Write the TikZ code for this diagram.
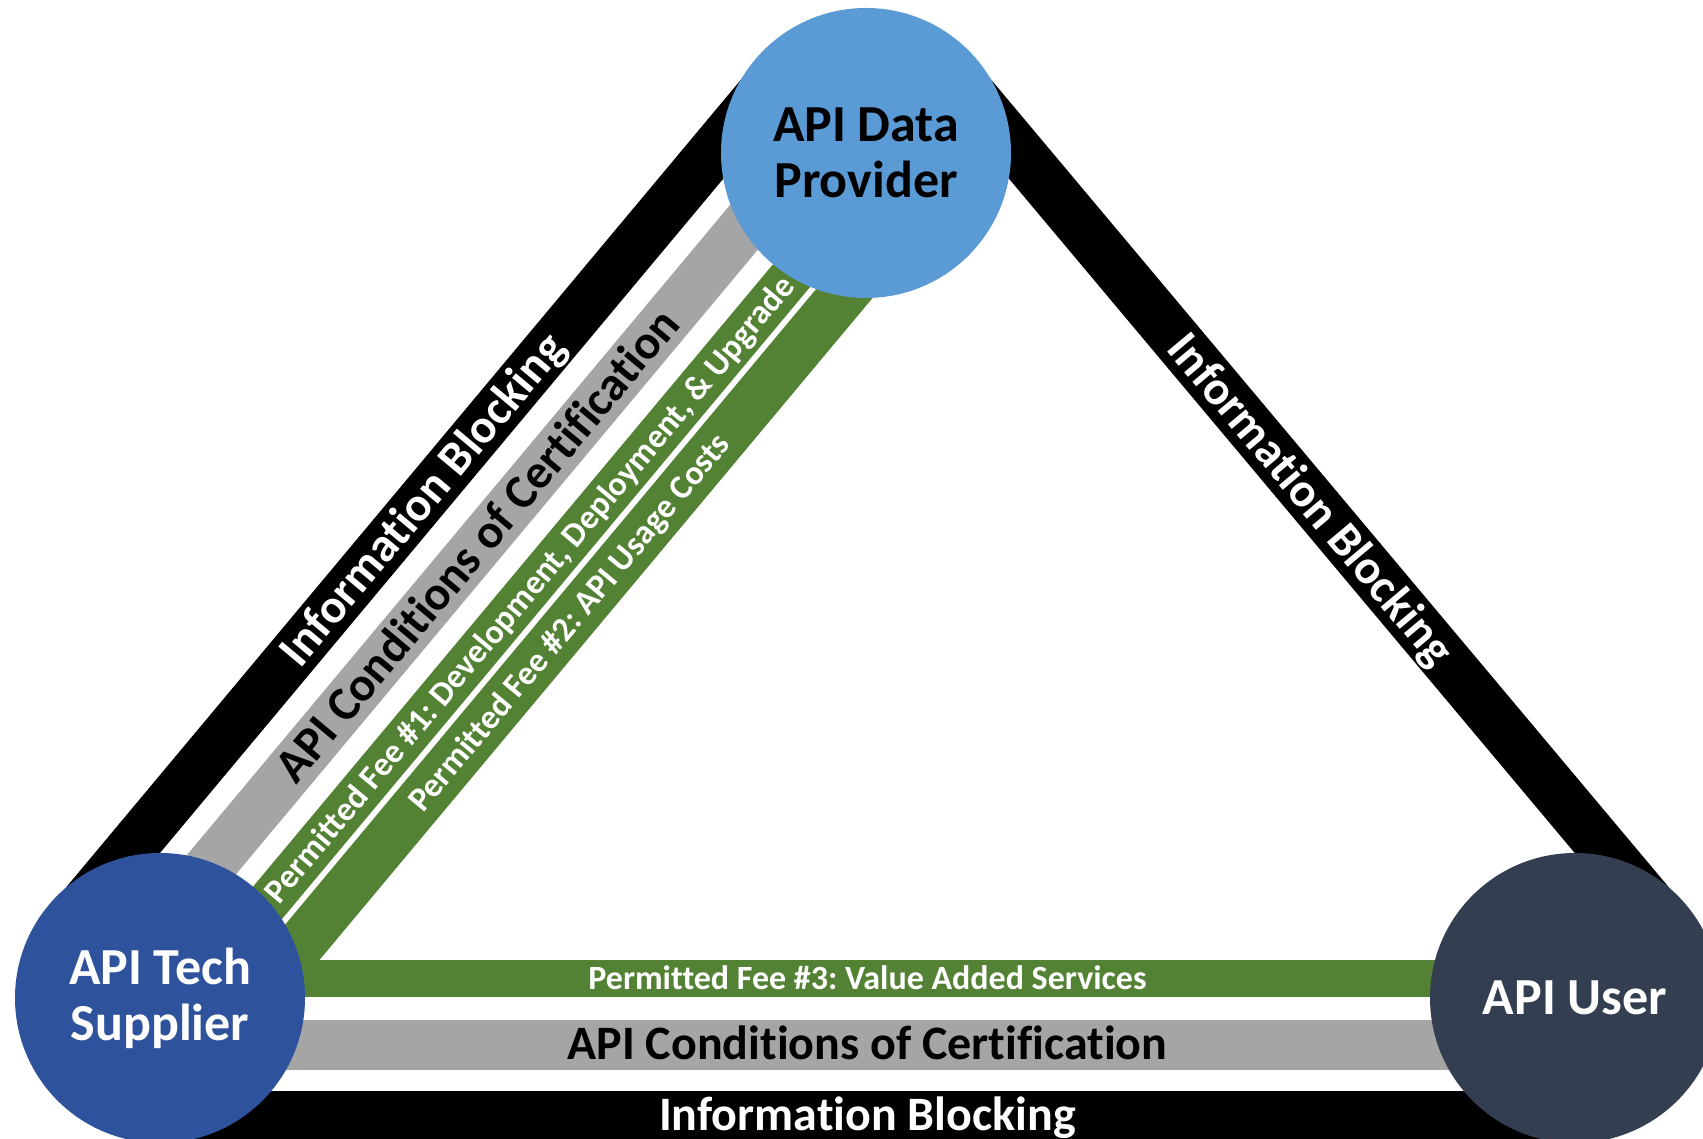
\documentclass[tikz,border=0pt]{standalone}
\usepackage{fontspec}
\setmainfont{Carlito}[Ligatures=NoCommon]
\usetikzlibrary{calc,backgrounds}
\frenchspacing

\begin{document}
\begin{tikzpicture}[x=1pt,y=1pt,
    hub/.style={circle, minimum size=290pt, inner sep=0pt, align=center, font=\fontsize{52}{56}\selectfont\bfseries},
    infoband/.style={line width=50pt, color=black},
    certband/.style={line width=50pt, color={rgb, 255:red, 165; green, 165; blue, 165 }},
    feeband/.style={color={rgb, 255:red, 84; green, 130; blue, 53 }},
    bigtext/.style={sloped, inner sep=0pt, font=\fontsize{48}{50}\selectfont\bfseries, text height=30pt, text depth=0pt},
    feetext/.style={sloped, inner sep=0pt, font=\fontsize{34}{36}\selectfont\bfseries, text=white, text height=21.5pt, text depth=0pt}
  ]
  \useasboundingbox (0,0) rectangle (1703,1139);

  %Shape: Circle
  \node [hub, fill={rgb, 255:red, 91; green, 155; blue, 213 }] (prov) at (866,986) {API Data\\Provider};
  %Shape: Circle
  \node [hub, fill={rgb, 255:red, 47; green, 82; blue, 157 }, text=white] (supp) at (160,141) {API Tech\\Supplier};
  %Shape: Circle
  \node [hub, fill={rgb, 255:red, 51; green, 63; blue, 80 }, text=white] (user) at (1575,141) {API User};

  \begin{pgfonlayer}{background}
    %Straight Lines
    \draw [infoband] ($(supp.center)!118pt!90:(prov.center)$) -- node [bigtext, text=white] (leftIB) {Information Blocking} ($(prov.center)!118pt!-90:(supp.center)$) ;
    %Straight Lines
    \draw [certband] ($(supp.center)!46pt!90:(prov.center)$) -- node [bigtext, text=black] (leftCC) {API Conditions of Certification} ($(prov.center)!46pt!-90:(supp.center)$) ;
    %Straight Lines
    \draw [feeband, line width=43pt] ($(supp.center)!21.5pt!-90:(prov.center)$) -- node [feetext] (fee1) {Permitted Fee \#1: Development, Deployment, \& Upgrade} ($(prov.center)!21.5pt!90:(supp.center)$) ;
    %Straight Lines
    \draw [feeband, line width=49pt] ($(supp.center)!73.5pt!-90:(prov.center)$) -- node [feetext] (fee2) {Permitted Fee \#2: API Usage Costs} ($(prov.center)!73.5pt!90:(supp.center)$) ;

    %Straight Lines
    \draw [infoband] ($(prov.center)!118pt!90:(user.center)$) -- node [bigtext, text=white] (rightIB) {Information Blocking} ($(user.center)!118pt!-90:(prov.center)$) ;

    %Straight Lines
    \draw [infoband] ($(user.center)!118pt!90:(supp.center)$) -- node [bigtext, text=white] (botIB) {Information Blocking} ($(supp.center)!118pt!-90:(user.center)$) ;
    %Straight Lines
    \draw [certband] ($(user.center)!47pt!90:(supp.center)$) -- node [bigtext, text=black] (botCC) {API Conditions of Certification} ($(supp.center)!47pt!-90:(user.center)$) ;
    %Straight Lines
    \draw [feeband, line width=37pt] ($(user.center)!19.5pt!-90:(supp.center)$) -- node [feetext] (fee3) {Permitted Fee \#3: Value Added Services} ($(supp.center)!19.5pt!90:(user.center)$) ;
  \end{pgfonlayer}

\end{tikzpicture}
\end{document}
